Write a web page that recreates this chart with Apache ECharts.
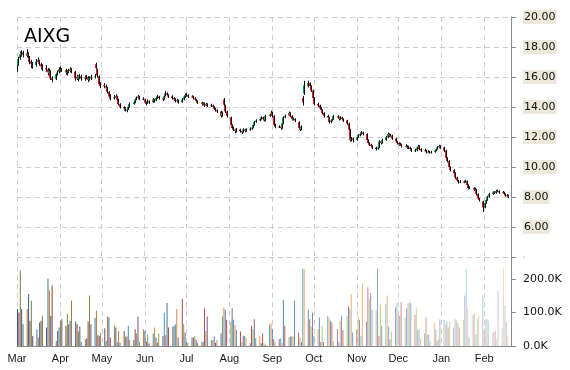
<!DOCTYPE html>
<html>
<head>
<meta charset="utf-8">
<script src="https://cdn.jsdelivr.net/npm/echarts@6/dist/echarts.min.js"></script>
<style>html,body{margin:0;padding:0;background:#fff}#c{width:570px;height:370px}</style>
</head>
<body>
<div id="c"></div>
<script>
// ---- data ----
const ticker = 'AIXG';
const startDate = '2010-03-01';   // first trading day (Monday)
const axisStart = '2010-03-01';
const axisEnd = '2011-02-20';
const monthNames = ['Jan','Feb','Mar','Apr','May','Jun','Jul','Aug','Sep','Oct','Nov','Dec'];
const priceTicks = [4, 6, 8, 10, 12, 14, 16, 18, 20];
const volumeTicksK = [0, 100, 200];

const opens = [
16.55,16.80,17.25,17.45,17.65, 17.40,17.55,17.30,17.05,16.85, 16.80,17.00,17.10,16.85,16.72, 16.60,16.50,16.25,16.40,15.95,
15.85,16.20,16.35,16.50,16.48, 16.45,16.28,16.35,16.40,16.55, 16.35,15.90,16.05,15.90,16.05, 15.88,15.95,16.00,15.82,15.90,
16.00,16.85,16.50,16.05,15.55, 15.45,15.40,15.28,15.00,14.72, 14.65,14.60,14.70,14.48,14.20, 14.00,13.92,13.80,13.85,14.00,
14.20,14.32,14.50,14.60,14.70, 14.52,14.50,14.30,14.25,14.38, 14.32,14.50,14.42,14.62,14.70, 14.58,14.52,14.75,14.90,14.80,
14.70,14.60,14.50,14.42,14.42, 14.32,14.50,14.70,14.78,14.80, 14.70,14.70,14.58,14.50,14.40, 14.30,14.22,14.25,14.10,14.20,
14.10,14.10,14.00,13.90,13.80, 13.70,13.42,14.50,14.10,13.70, 13.30,12.80,12.58,12.50,12.40, 12.50,12.40,12.32,12.50,12.40,
12.50,12.55,12.62,12.80,13.00, 13.10,13.20,13.30,13.20,13.10, 13.40,13.50,13.62,13.40,12.80, 12.70,12.70,12.60,12.90,13.30,
13.42,13.60,13.40,13.20,13.20, 13.00,12.60,12.50,14.60,14.90, 15.40,15.60,15.40,15.10,14.60, 14.20,14.10,13.90,13.80,13.60,
13.40,13.30,13.00,13.10,13.20, 13.40,13.30,13.20,13.30,13.20, 13.10,12.90,12.50,11.80,11.90, 11.80,12.00,12.10,12.20,12.30,
12.20,11.80,11.60,11.50,11.40, 11.30,11.20,11.30,11.70,11.60, 11.80,12.00,12.20,12.10,12.10, 11.90,11.70,11.60,11.50,11.50,
11.40,11.40,11.30,11.30,11.20, 11.10,11.10,11.30,11.40,11.20, 11.10,11.10,11.00,11.00,10.98, 11.00,11.10,11.20,11.30,11.40,
11.30,11.10,10.60,10.40,10.00, 9.80,9.60,9.30,9.10,9.00, 9.02,9.00,9.05,8.80,8.60, 8.60,8.50,8.50,8.20,7.90,
7.70,7.30,7.60,7.80,8.00, 8.20,8.30,8.28,8.40,8.40, 8.30,8.30,8.20,8.10,8.10
];
const closes = [
16.70,17.20,17.50,17.62,17.48, 17.60,17.38,17.00,16.90,16.78, 17.02,17.12,16.88,16.70,16.58, 16.52,16.30,16.42,15.92,15.80,
16.18,16.30,16.52,16.48,16.45, 16.30,16.32,16.42,16.52,16.40, 15.92,16.02,15.88,16.10,15.90, 15.95,16.02,15.80,15.92,16.00,
16.05,16.60,16.10,15.52,15.40, 15.42,15.30,15.00,14.70,14.60, 14.62,14.72,14.50,14.20,14.00, 13.90,13.80,13.82,14.02,14.20,
14.30,14.50,14.62,14.70,14.52, 14.55,14.30,14.22,14.40,14.30, 14.50,14.40,14.60,14.72,14.60, 14.50,14.72,14.92,14.80,14.70,
14.60,14.50,14.40,14.45,14.30, 14.50,14.70,14.80,14.82,14.70, 14.68,14.60,14.50,14.40,14.30, 14.20,14.25,14.10,14.20,14.10,
14.12,14.00,13.90,13.80,13.70, 13.40,13.60,14.15,13.70,13.40, 12.80,12.60,12.50,12.40,12.52, 12.40,12.30,12.50,12.40,12.50,
12.55,12.62,12.80,13.00,13.10, 13.20,13.30,13.20,13.10,13.40, 13.50,13.62,13.40,12.80,12.70, 12.68,12.60,12.90,13.30,13.40,
13.60,13.40,13.20,13.22,13.10, 12.60,12.50,12.70,14.30,15.45, 15.60,15.40,15.10,14.60,14.20, 14.10,13.90,13.80,13.60,13.40,
13.30,13.00,13.10,13.20,13.40, 13.30,13.20,13.30,13.20,13.10, 12.90,12.50,11.80,11.90,11.80, 12.00,12.10,12.20,12.30,12.20,
11.80,11.60,11.50,11.40,11.30, 11.20,11.30,11.70,11.60,11.80, 12.00,12.20,12.10,12.12,11.90, 11.70,11.60,11.50,11.52,11.40,
11.42,11.30,11.32,11.20,11.10, 11.12,11.30,11.40,11.20,11.10, 11.12,11.00,11.02,10.98,11.00, 11.10,11.20,11.30,11.40,11.30,
11.10,10.60,10.40,10.00,9.80, 9.60,9.30,9.10,9.00,9.02, 9.00,9.05,8.80,8.60,8.62, 8.50,8.52,8.20,7.90,7.80,
7.30,7.60,7.80,8.00,8.20, 8.30,8.28,8.40,8.42,8.30, 8.32,8.20,8.10,8.12,8.00
];
const highs = [
16.95,17.35,17.70,17.80,17.75, 17.85,17.65,17.40,17.15,17.00, 17.20,17.30,17.15,16.95,16.85, 16.80,16.60,16.55,16.45,16.05,
16.25,16.45,16.65,16.70,16.60, 16.55,16.45,16.55,16.65,16.60, 16.40,16.15,16.10,16.20,16.15, 16.10,16.15,16.05,16.05,16.15,
16.20,16.95,16.55,16.10,15.65, 15.60,15.50,15.35,15.05,14.85, 14.80,14.85,14.75,14.55,14.25, 14.05,14.00,13.95,14.10,14.30,
14.40,14.60,14.70,14.80,14.75, 14.65,14.55,14.40,14.50,14.45, 14.60,14.55,14.68,14.80,14.75, 14.65,14.80,15.05,14.98,14.85,
14.78,14.65,14.58,14.55,14.50, 14.60,14.80,14.90,14.92,14.85, 14.78,14.75,14.65,14.55,14.45, 14.35,14.32,14.30,14.28,14.25,
14.22,14.15,14.05,13.95,13.85, 13.75,13.70,14.60,14.15,13.75, 13.35,12.85,12.70,12.55,12.60, 12.55,12.45,12.58,12.55,12.58,
12.65,12.70,12.88,13.08,13.18, 13.28,13.38,13.35,13.25,13.48, 13.60,13.75,13.68,13.45,12.88, 12.78,12.75,12.98,13.38,13.50,
13.70,13.65,13.45,13.30,13.25, 13.05,12.65,12.78,14.75,15.75, 15.75,15.65,15.45,15.15,14.65, 14.30,14.15,14.00,13.85,13.65,
13.48,13.35,13.18,13.28,13.48, 13.45,13.35,13.38,13.35,13.25, 13.15,12.95,12.55,12.00,11.95, 12.08,12.18,12.30,12.40,12.35,
12.25,11.85,11.65,11.55,11.45, 11.35,11.38,11.78,11.75,11.88, 12.08,12.30,12.25,12.20,12.15, 11.95,11.75,11.65,11.62,11.55,
11.52,11.45,11.42,11.35,11.25, 11.22,11.38,11.48,11.45,11.25, 11.22,11.15,11.12,11.08,11.08, 11.18,11.28,11.38,11.48,11.45,
11.35,11.15,10.65,10.45,10.05, 9.85,9.65,9.35,9.15,9.12, 9.10,9.15,9.10,8.85,8.72, 8.65,8.62,8.55,8.25,7.95,
7.75,7.68,7.88,8.08,8.28, 8.38,8.38,8.48,8.50,8.45, 8.40,8.35,8.25,8.20,8.15
];
const lows = [
16.35,16.75,17.15,17.35,17.30, 17.30,17.20,16.85,16.60,16.55, 16.70,16.90,16.75,16.50,16.40, 16.35,16.10,16.15,15.80,15.65,
15.80,16.10,16.25,16.35,16.35, 16.15,16.10,16.25,16.30,16.25, 15.75,15.80,15.70,15.85,15.75, 15.75,15.85,15.65,15.75,15.80,
15.90,16.50,15.95,15.40,15.25, 15.25,15.15,14.90,14.55,14.45, 14.50,14.55,14.40,14.10,13.90, 13.75,13.70,13.65,13.80,13.95,
14.15,14.25,14.45,14.55,14.45, 14.45,14.20,14.10,14.20,14.20, 14.28,14.30,14.38,14.55,14.50, 14.40,14.48,14.70,14.72,14.60,
14.50,14.40,14.30,14.30,14.22, 14.28,14.45,14.62,14.68,14.60, 14.60,14.50,14.40,14.30,14.20, 14.10,14.12,14.00,14.05,14.00,
14.00,13.90,13.80,13.70,13.60, 13.30,13.35,13.95,13.60,13.30, 12.70,12.50,12.40,12.25,12.30, 12.30,12.20,12.28,12.32,12.35,
12.42,12.48,12.58,12.75,12.95, 13.05,13.15,13.12,13.02,13.05, 13.35,13.45,13.30,12.70,12.58, 12.60,12.48,12.55,12.85,13.25,
13.38,13.32,13.10,13.10,13.00, 12.50,12.40,12.45,14.10,14.80, 15.30,15.30,15.00,14.50,14.10, 14.00,13.80,13.70,13.50,13.30,
13.20,12.90,12.92,13.05,13.15, 13.20,13.10,13.15,13.10,13.00, 12.80,12.40,11.70,11.70,11.65, 11.75,11.95,12.05,12.15,12.10,
11.70,11.50,11.40,11.30,11.20, 11.10,11.15,11.25,11.50,11.55, 11.75,11.95,12.00,12.02,11.80, 11.60,11.50,11.40,11.42,11.30,
11.30,11.20,11.20,11.10,11.00, 11.00,11.05,11.25,11.12,11.00, 11.00,10.90,10.92,10.88,10.90, 10.95,11.05,11.15,11.25,11.20,
11.00,10.50,10.30,9.90,9.70, 9.50,9.20,9.00,8.90,8.92, 8.92,8.95,8.70,8.50,8.52, 8.40,8.42,8.10,7.80,7.70,
7.00,7.25,7.55,7.75,7.95, 8.15,8.20,8.22,8.32,8.22, 8.22,8.12,8.02,8.02,7.92
];
// daily volume, thousands of shares
const volumesK = [
110,100,225,110,65, 110,155,75,135,30, 50,25,70,75,90, 55,200,165,90,180,
15,45,55,75,80, 60,95,65,75,135, 72,65,43,57,12, 20,23,73,150,65,
83,105,33,30,38, 53,15,88,85,25, 60,55,12,45,10, 45,28,28,60,18,
18,50,37,88,12, 50,45,13,35,8, 37,55,25,10,37, 30,100,33,128,55,
57,60,65,110,25, 140,65,40,12,10, 25,25,30,18,10, 13,13,112,45,88,
18,18,28,10,18, 37,88,115,108,78, 72,112,78,63,48, 43,12,30,30,25,
8,60,50,80,23, 30,8,37,8,3, 63,68,50,20,12, 20,23,10,137,60,
25,28,28,28,135, 40,25,12,230,230, 108,80,58,100,30, 50,85,12,58,12,
90,85,75,70,15, 50,12,75,90,48, 90,118,112,155,40, 48,88,78,30,185,
73,175,140,158,108, 107,230,30,125,60, 125,150,58,20,43, 115,128,98,90,130,
85,112,127,130,127, 93,112,48,50,20, 37,85,35,33,15, 70,50,15,20,80,
78,65,72,55,72, 55,80,77,68,55, 78,150,230,115,25, 93,98,35,80,90,
150,45,80,80,75, 40,40,45,20,165, 55,230,120,70,30
];

// ---- trading dates: consecutive weekdays from startDate ----
function pad(n){return n<10?'0'+n:''+n;}
const dates = [];
(function(){
  const p = startDate.split('-').map(Number);
  let t = Date.UTC(p[0], p[1]-1, p[2]);
  while (dates.length < closes.length) {
    const d = new Date(t);
    const wd = d.getUTCDay();
    if (wd !== 0 && wd !== 6) dates.push(d.getUTCFullYear()+'-'+pad(d.getUTCMonth()+1)+'-'+pad(d.getUTCDate()));
    t += 86400000;
  }
})();

const candleData = dates.map((d,i)=>[d, opens[i], closes[i], lows[i], highs[i]]);
const volData = dates.map((d,i)=>[d, volumesK[i]]);

// ---- styling ----
const UP = '#0aa050', DOWN = '#e8161c';
const palette = [[79,129,189],[192,80,77],[155,187,89],[128,100,162],[75,172,198],[247,150,70]];
function volColor(i){
  const base = palette[i % palette.length];
  const t = i/(dates.length-1);
  let r,g,b;
  if (t < 0.5) { const k = 0.3*(1 - 2*t); r=base[0]*(1-k); g=base[1]*(1-k); b=base[2]*(1-k); }
  else { const k = Math.min(0.62,(t-0.5)*1.25); r=base[0]+(255-base[0])*k; g=base[1]+(255-base[1])*k; b=base[2]+(255-base[2])*k; }
  return 'rgb('+Math.round(r)+','+Math.round(g)+','+Math.round(b)+')';
}
const gridLine = {show:true, lineStyle:{color:'#cfcfcf', type:[5,4], width:1}};
const axisGray = '#8a8a8a';
// label month of the tick (nudged half a day forward so that a month-start tick never rounds into the previous month)
const monthFmt = v => monthNames[new Date(v + 43200000).getMonth()];

const chart = echarts.init(document.getElementById('c'), null, {renderer:'canvas'});
chart.setOption({
  animation:false,
  backgroundColor:'#ffffff',
  title:{text:ticker, left:19, top:23, textStyle:{fontFamily:'DejaVu Sans', fontSize:19, fontWeight:'normal', color:'#000'}},
  grid:[
    {left:17, right:59, top:17, height:240},
    {left:17, right:59, top:257, height:89}
  ],
  xAxis:[
    {type:'time', gridIndex:0, min:axisStart, max:axisEnd, minInterval:28*86400000, splitNumber:12,
     axisLine:{show:false}, axisTick:{show:false}, axisLabel:{show:false}, splitLine:gridLine},
    {type:'time', gridIndex:1, min:axisStart, max:axisEnd, minInterval:28*86400000, splitNumber:12,
     axisLine:{show:true, lineStyle:{color:axisGray}}, axisTick:{show:false},
     axisLabel:{formatter:monthFmt, fontFamily:'Liberation Sans', fontSize:11, color:'#1a1a1a', margin:7, showMinLabel:true, hideOverlap:false},
     splitLine:gridLine}
  ],
  yAxis:[
    {type:'value', gridIndex:0, position:'right', min:priceTicks[0], max:priceTicks[priceTicks.length-1], interval:2,
     axisLine:{show:true, lineStyle:{color:axisGray}}, axisTick:{show:true, inside:false, length:5, lineStyle:{color:axisGray}},
     axisLabel:{formatter:v => v===priceTicks[0] ? '' : v.toFixed(2), fontFamily:'DejaVu Sans', fontSize:11, color:'#111',
       margin:12, backgroundColor:'#ece8da', padding:[2,1,1,1]},
     splitLine:gridLine},
    {type:'value', gridIndex:1, position:'right', min:0, max:265, interval:100,
     axisLine:{show:true, lineStyle:{color:axisGray}}, axisTick:{show:true, inside:false, length:5, lineStyle:{color:axisGray}},
     axisLabel:{formatter:v => volumeTicksK.indexOf(v)>=0 ? v.toFixed(1)+'K' : '', showMaxLabel:false,
       fontFamily:'DejaVu Sans', fontSize:11, color:'#111', margin:12},
     splitLine:{show:false}}
  ],
  series:[
    {type:'custom', xAxisIndex:0, yAxisIndex:0, data:candleData, clip:true,
     encode:{x:0, y:[1,2,3,4]},
     renderItem:function(params, api){
       const t = api.value(0);
       const o = api.value(1), c = api.value(2), l = api.value(3), h = api.value(4);
       const x = Math.round(api.coord([t, o])[0]);
       const yo = api.coord([t, o])[1], yc = api.coord([t, c])[1];
       const yl = api.coord([t, l])[1], yh = api.coord([t, h])[1];
       const top = Math.min(yo, yc), hgt = Math.max(1, Math.abs(yo - yc));
       return {type:'group', children:[
         {type:'rect', shape:{x:x-1, y:top, width:1, height:hgt}, style:{fill: c >= o ? UP : DOWN}},
         {type:'line', shape:{x1:x+0.5, y1:yh, x2:x+0.5, y2:yl}, style:{stroke:'#111', lineWidth:1}}
       ]};
     }},
    {type:'bar', xAxisIndex:1, yAxisIndex:1, data:volData, barWidth:1, barMinHeight:0,
     itemStyle:{color:function(p){return volColor(p.dataIndex);}}}
  ]
});
</script>
</body>
</html>
